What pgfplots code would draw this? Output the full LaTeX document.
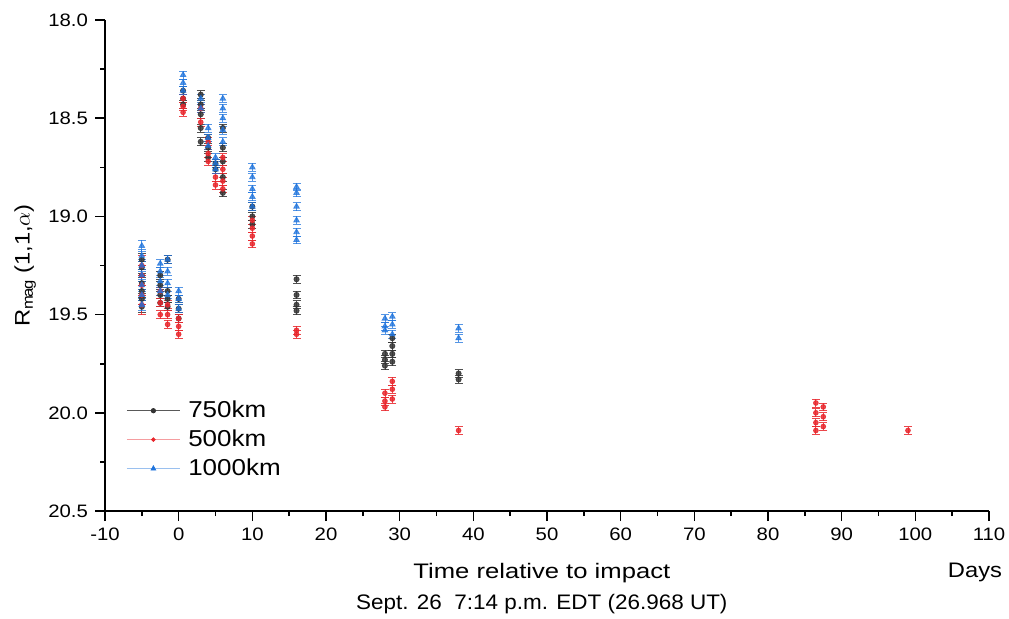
\documentclass[border=0pt]{standalone}
\usepackage{pgfplots}
\pgfplotsset{compat=1.18}
\usepackage{fontspec}
\setmainfont{Liberation Sans}[FakeStretch=1.13]
\newfontfamily\fwide{Liberation Sans}[FakeStretch=1.22]
\newfontfamily\fnarrow{Liberation Sans}[FakeStretch=1.07]
\definecolor{cblack}{HTML}{333333}
\definecolor{cred}{HTML}{E8262C}
\definecolor{cblue}{HTML}{1E73DC}
\begin{document}
\begin{tikzpicture}
\begin{axis}[
  scale only axis, width=442pt, height=245.5pt,
  xmin=-10, xmax=110, ymin=18, ymax=20.5, y dir=reverse,
  axis x line*=bottom, axis y line*=left,
  axis line style={line width=0.8pt},
  xtick={-10,0,...,110}, minor x tick num=1,
  ytick={18,18.5,...,20.5}, minor y tick num=1,
  tick align=outside, major tick length=5pt, minor tick length=2.5pt,
  every tick/.style={line width=0.8pt, black},
  tick label style={font=\fontsize{9}{10}\selectfont},
  /pgf/number format/assume math mode=true,
  yticklabel style={/pgf/number format/.cd, fixed, fixed zerofill, precision=1},
  xticklabel style={/pgf/number format/.cd, fixed},
  xlabel={{\fwide Time relative to impact}\\{\fnarrow Sept. 26\ \ 7:14 p.m. EDT (26.968 UT)}},
  xlabel style={align=center, font=\fontsize{10.5}{15.5}\selectfont, at={(axis cs:49.3,20.5)}, anchor=north, yshift=-22.5pt},
  ylabel={R$_{\mathrm{mag}}$ (1,1,$\alpha$)},
  ylabel style={font=\fontsize{10.5}{12}\selectfont, at={(axis cs:-10,19.25)}, anchor=south, yshift=31pt},
  legend style={draw=none, fill=none, at={(axis cs:-7.15,19.922)}, anchor=north west, font=\fontsize{11.5}{12}\selectfont, row sep=1.6pt, inner sep=0pt, nodes={inner sep=1.5pt}},
  legend cell align=left,
  error bars/error bar style={line width=0.4pt},
]
\addlegendimage{legend image code/.code={\draw[black!65, line width=0.5pt] (0pt,0pt) -- (26.5pt,0pt); \fill[cblack] (13.25pt,0pt) circle (1.1pt); \path (29pt,0pt);}}
\addlegendentry{750km}
\addlegendimage{legend image code/.code={\draw[cred!45, line width=0.5pt] (0pt,0pt) -- (26.5pt,0pt); \fill[cred] (13.25pt,0pt) circle (0.9pt); \path (29pt,0pt);}}
\addlegendentry{500km}
\addlegendimage{legend image code/.code={\draw[cblue!45, line width=0.5pt] (0pt,0pt) -- (26.5pt,0pt); \fill[cblue] (12.1pt,-0.8pt) -- (14.4pt,-0.8pt) -- (13.25pt,1.3pt) -- cycle; \path (29pt,0pt);}}
\addlegendentry{1000km}
% 750 km
\addplot[forget plot, only marks, mark=*, mark size=1.3pt, cblack, opacity=0.85,
  error bars/.cd, y dir=both, y explicit, error mark options={rotate=90, mark size=2pt, cblack}]
  table[x=x, y=y, y error=e] {
x y e
-5 19.22 0.03
-5 19.26 0.03
-5 19.30 0.03
-5 19.34 0.03
-5 19.38 0.03
-5 19.42 0.03
-5 19.46 0.03
-2.5 19.30 0.02
-2.5 19.35 0.02
-2.5 19.40 0.02
-2.5 19.44 0.02
-1.5 19.22 0.02
-1.5 19.38 0.02
-1.5 19.42 0.02
-1.5 19.46 0.02
0 19.42 0.02
0 19.47 0.02
0 19.52 0.02
0.6 18.36 0.02
0.6 18.40 0.02
0.6 18.43 0.02
3 18.38 0.02
3 18.43 0.02
3 18.48 0.02
3 18.55 0.02
3 18.62 0.02
4 18.60 0.02
4 18.65 0.02
4 18.70 0.02
5 18.73 0.02
5 18.76 0.02
6 18.55 0.02
6 18.65 0.02
6 18.72 0.02
6 18.80 0.02
6 18.88 0.02
10 18.95 0.02
10 19.00 0.02
10 19.04 0.02
16 19.32 0.02
16 19.40 0.02
16 19.45 0.02
16 19.48 0.02
28 19.70 0.02
28 19.73 0.02
28 19.76 0.02
29 19.62 0.02
29 19.66 0.02
29 19.70 0.02
29 19.74 0.02
38 19.80 0.02
38 19.83 0.02
};
% 500 km
\addplot[forget plot, only marks, mark=*, mark size=1.2pt, cred, opacity=0.85,
  error bars/.cd, y dir=both, y explicit, error mark options={rotate=90, mark size=2pt, cred}]
  table[x=x, y=y, y error=e] {
x y e
-5 19.25 0.05
-5 19.30 0.05
-5 19.35 0.05
-5 19.40 0.05
-5 19.45 0.05
-2.5 19.38 0.02
-2.5 19.44 0.02
-2.5 19.50 0.02
-1.5 19.45 0.02
-1.5 19.50 0.02
-1.5 19.55 0.02
0 19.52 0.02
0 19.56 0.02
0 19.60 0.02
0.6 18.40 0.02
0.6 18.44 0.02
0.6 18.47 0.02
3 18.45 0.02
3 18.52 0.02
4 18.62 0.02
4 18.68 0.02
4 18.72 0.02
5 18.80 0.02
5 18.84 0.02
6 18.70 0.02
6 18.76 0.02
6 18.82 0.02
6 18.86 0.02
10 19.02 0.02
10 19.06 0.02
10 19.10 0.02
10 19.14 0.02
16 19.58 0.02
16 19.60 0.02
28 19.90 0.02
28 19.94 0.02
28 19.97 0.02
29 19.84 0.02
29 19.88 0.02
29 19.93 0.02
38 20.09 0.02
86.5 19.95 0.02
86.5 20.00 0.02
86.5 20.05 0.02
86.5 20.09 0.02
87.5 19.97 0.02
87.5 20.02 0.02
87.5 20.07 0.02
99 20.09 0.02
};
% 1000 km
\addplot[forget plot, only marks, mark=triangle*, mark size=1.6pt, cblue, opacity=0.75,
  error bars/.cd, y dir=both, y explicit, error mark options={rotate=90, mark size=2pt, cblue}]
  table[x=x, y=y, y error=e] {
x y e
-5 19.15 0.03
-5 19.20 0.03
-5 19.25 0.03
-5 19.30 0.03
-5 19.35 0.03
-5 19.40 0.03
-5 19.45 0.03
-2.5 19.24 0.02
-2.5 19.28 0.02
-2.5 19.33 0.02
-2.5 19.38 0.02
-1.5 19.22 0.02
-1.5 19.28 0.02
-1.5 19.34 0.02
-1.5 19.40 0.02
0 19.38 0.02
0 19.42 0.02
0 19.47 0.02
0.6 18.28 0.02
0.6 18.32 0.02
0.6 18.36 0.02
3 18.40 0.02
3 18.45 0.02
4 18.55 0.02
4 18.60 0.02
4 18.64 0.02
5 18.70 0.02
5 18.73 0.02
5 18.76 0.02
6 18.40 0.02
6 18.45 0.02
6 18.50 0.02
6 18.56 0.02
6 18.62 0.02
10 18.75 0.02
10 18.80 0.02
10 18.86 0.02
10 18.90 0.02
10 18.95 0.02
16 18.85 0.02
16 18.88 0.02
16 18.95 0.02
16 19.02 0.02
16 19.08 0.02
16 19.12 0.02
28 19.52 0.02
28 19.56 0.02
28 19.58 0.02
29 19.51 0.02
29 19.55 0.02
29 19.60 0.02
38 19.57 0.02
38 19.62 0.02
};
\coordinate (sw) at (axis cs:-10,20.5);
\coordinate (ne) at (axis cs:110,18);
\coordinate (se) at (axis cs:110,20.5);
\end{axis}
\node[font=\fontsize{10.5}{12}\selectfont, anchor=base] at ([xshift=-7pt, yshift=-33.5pt]se) {Days};
\pgfresetboundingbox
\path ([xshift=-52.5pt, yshift=-54pt]sw) rectangle ([xshift=10pt, yshift=10pt]ne);
\end{tikzpicture}
\end{document}
